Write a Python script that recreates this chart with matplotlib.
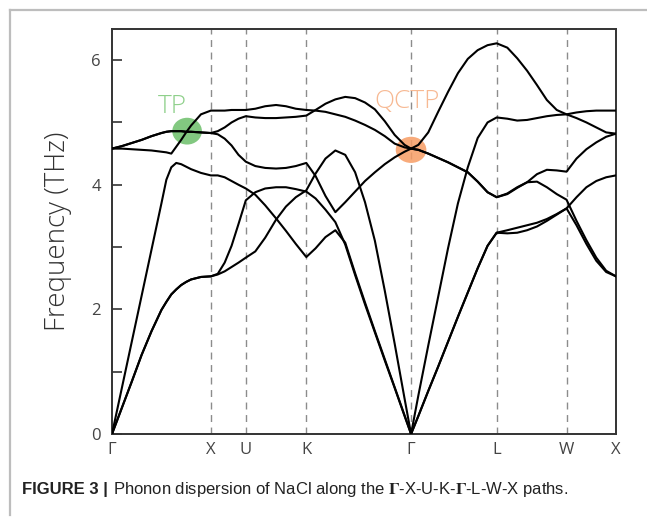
import matplotlib
matplotlib.use("Agg")
import matplotlib.pyplot as plt
from matplotlib.patches import Ellipse
from matplotlib.lines import Line2D

# high-symmetry points along the path (units of 2*pi/a)
sym_labels = ["Γ", "X", "U", "K", "Γ", "L", "W", "X"]
sym_k = [0.0, 1.0, 1.354, 1.966, 3.026, 3.892, 4.599, 5.099]

k = [0, 0.1, 0.2, 0.3, 0.4, 0.5, 0.55, 0.6, 0.65, 0.7, 0.75, 0.8, 0.9, 1.0,
     1.07, 1.14, 1.21, 1.28, 1.354,
     1.45, 1.55, 1.66, 1.76, 1.86, 1.966,
     2.06, 2.16, 2.26, 2.36, 2.46, 2.56, 2.66, 2.76, 2.86, 2.96, 3.026,
     3.1, 3.2, 3.3, 3.4, 3.5, 3.6, 3.7, 3.8, 3.892,
     4.0, 4.1, 4.2, 4.3, 4.4, 4.5, 4.599,
     4.7, 4.8, 4.9, 5.0, 5.099]

# frequencies (THz) of the six branches
band1 = [0, 0.42, 0.84, 1.27, 1.65, 1.99, 2.12, 2.24, 2.32, 2.39, 2.44, 2.48, 2.52, 2.53,
         2.57, 2.75, 3.02, 3.37, 3.75,
         3.88, 3.94, 3.96, 3.96, 3.93, 3.89,
         3.78, 3.60, 3.40, 3.04, 2.55, 2.08, 1.63, 1.18, 0.74, 0.29, 0,
         0.29, 0.69, 1.08, 1.48, 1.88, 2.27, 2.66, 3.02, 3.23,
         3.27, 3.31, 3.35, 3.39, 3.45, 3.53, 3.62,
         3.80, 3.96, 4.06, 4.12, 4.15]
band2 = [0, 0.42, 0.84, 1.27, 1.65, 1.99, 2.12, 2.24, 2.32, 2.39, 2.44, 2.48, 2.52, 2.53,
         2.56, 2.61, 2.68, 2.75, 2.83,
         2.93, 3.15, 3.44, 3.65, 3.80, 3.91,
         4.18, 4.42, 4.55, 4.48, 4.20, 3.72, 3.10, 2.30, 1.45, 0.57, 0,
         0.29, 0.69, 1.08, 1.48, 1.88, 2.27, 2.66, 3.02, 3.23,
         3.22, 3.23, 3.27, 3.33, 3.42, 3.52, 3.62,
         3.35, 3.05, 2.78, 2.60, 2.53]
band3 = [0, 0.74, 1.48, 2.22, 2.96, 3.70, 4.08, 4.28, 4.35, 4.33, 4.29, 4.25, 4.19, 4.15,
         4.15, 4.12, 4.06, 4.00, 3.94,
         3.84, 3.67, 3.46, 3.26, 3.05, 2.84,
         2.98, 3.16, 3.27, 3.07, 2.58, 2.11, 1.65, 1.20, 0.75, 0.30, 0,
         0.62, 1.42, 2.20, 2.98, 3.70, 4.28, 4.75, 5.00, 5.08,
         5.06, 5.03, 5.04, 5.07, 5.10, 5.12, 5.13,
         5.16, 5.18, 5.19, 5.19, 5.19]
band4 = [4.58, 4.62, 4.67, 4.72, 4.78, 4.83, 4.85, 4.86, 4.86, 4.86, 4.85, 4.85, 4.84, 4.83,
         4.81, 4.74, 4.63, 4.48, 4.37,
         4.30, 4.27, 4.26, 4.27, 4.30, 4.35,
         4.14, 3.82, 3.56, 3.72, 3.89, 4.06, 4.20, 4.33, 4.44, 4.53, 4.58,
         4.56, 4.50, 4.43, 4.36, 4.28, 4.20, 4.05, 3.88, 3.80,
         3.85, 3.95, 4.04, 4.05, 3.96, 3.85, 3.76,
         3.42, 3.11, 2.83, 2.62, 2.53]
band5 = [4.58, 4.62, 4.67, 4.72, 4.78, 4.83, 4.85, 4.86, 4.86, 4.86, 4.85, 4.85, 4.84, 4.83,
         4.86, 4.92, 5.00, 5.06, 5.10,
         5.08, 5.07, 5.07, 5.08, 5.09, 5.11,
         5.20, 5.30, 5.37, 5.41, 5.39, 5.32, 5.21, 5.02, 4.80, 4.64, 4.58,
         4.56, 4.50, 4.43, 4.36, 4.28, 4.20, 4.05, 3.88, 3.80,
         3.86, 3.96, 4.04, 4.17, 4.24, 4.23, 4.21,
         4.42, 4.57, 4.68, 4.77, 4.82]
band6 = [4.58, 4.58, 4.57, 4.56, 4.55, 4.53, 4.52, 4.50, 4.61, 4.72, 4.84, 4.95, 5.13, 5.19,
         5.19, 5.19, 5.20, 5.20, 5.20,
         5.22, 5.26, 5.28, 5.26, 5.22, 5.20,
         5.19, 5.17, 5.13, 5.09, 5.03, 4.96, 4.88, 4.78, 4.66, 4.60, 4.58,
         4.64, 4.84, 5.17, 5.49, 5.79, 6.02, 6.16, 6.24, 6.27,
         6.20, 6.03, 5.83, 5.60, 5.36, 5.20, 5.13,
         5.07, 5.00, 4.92, 4.84, 4.82]
bands = [band1, band2, band3, band4, band5, band6]

# marked crossing points
tp_point = (0.76, 4.86)
qctp_point = (3.026, 4.56)

plot_font = ["Open Sans", "DejaVu Sans"]
plt.rcParams["mathtext.fontset"] = "stix"

fig = plt.figure(figsize=(6.47, 5.23), dpi=100)
ax = fig.add_axes([0.1731, 0.1702, 0.7789, 0.7744])

for b in bands:
    ax.plot(k, b, color="black", lw=1.5, solid_joinstyle="round", zorder=3)

for x in sym_k[1:-1]:
    ax.axvline(x, color="#8c8c8c", lw=1.0, ls=(0, (5, 4)), zorder=1)

ax.add_patch(Ellipse(tp_point, 0.30, 0.43, facecolor="#6cbf6a", alpha=0.85,
                     lw=0, zorder=2))
ax.add_patch(Ellipse(qctp_point, 0.31, 0.42, facecolor="#f79c64", alpha=0.85,
                     lw=0, zorder=2))
ax.text(0.61, 5.25, "TP", color="#8fd08b", fontsize=19, fontweight="light",
        family=plot_font, ha="center", va="center")
ax.text(2.99, 5.33, "QCTP", color="#f7b993", fontsize=19, fontweight="light",
        family=plot_font, ha="center", va="center")

ax.set_xlim(0, sym_k[-1])
ax.set_ylim(0, 6.5)
ax.set_xticks(sym_k)
ax.set_xticklabels(sym_labels, family=plot_font, fontsize=12, color="#444444")
ax.set_yticks([0, 2, 4, 6])
ax.set_yticks([1, 3, 5], minor=True)
ax.set_yticklabels(["0", "2", "4", "6"], family=plot_font, fontsize=12,
                   color="#444444")
ax.tick_params(axis="x", length=0, pad=6)
ax.tick_params(axis="y", which="both", direction="in", length=7, width=1.2,
               pad=8, color="#333333")
ax.set_ylabel("Frequency (THz)", family=plot_font, fontsize=20,
              fontweight="light", color="#333333", labelpad=14)
for s in ax.spines.values():
    s.set_linewidth(1.4)
    s.set_color("#333333")

# light frame around the figure panel (top and left edges)
fig.add_artist(Line2D([10 / 647, 1.0], [1 - 10 / 523, 1 - 10 / 523],
                      color="#bdbdbd", lw=1.6))
fig.add_artist(Line2D([10 / 647, 10 / 647], [1 - 10 / 523, 8 / 523],
                      color="#bdbdbd", lw=1.6))

# caption: bold label followed by plain text
cap_y = 0.065
head = fig.text(0.034, cap_y, "FIGURE 3 |", fontsize=12, fontweight="bold",
                family=["Liberation Sans"], va="center", color="#222222")
renderer = fig.canvas.get_renderer()
bb = head.get_window_extent(renderer)
fig.text((bb.x1 + 5) / fig.bbox.width, cap_y,
         r"Phonon dispersion of NaCl along the $\mathbf{\Gamma}$-X-U-K-$\mathbf{\Gamma}$-L-W-X paths.",
         fontsize=12, family=["Liberation Sans"], va="center", color="#222222")

fig.savefig("out.png", dpi=100)
